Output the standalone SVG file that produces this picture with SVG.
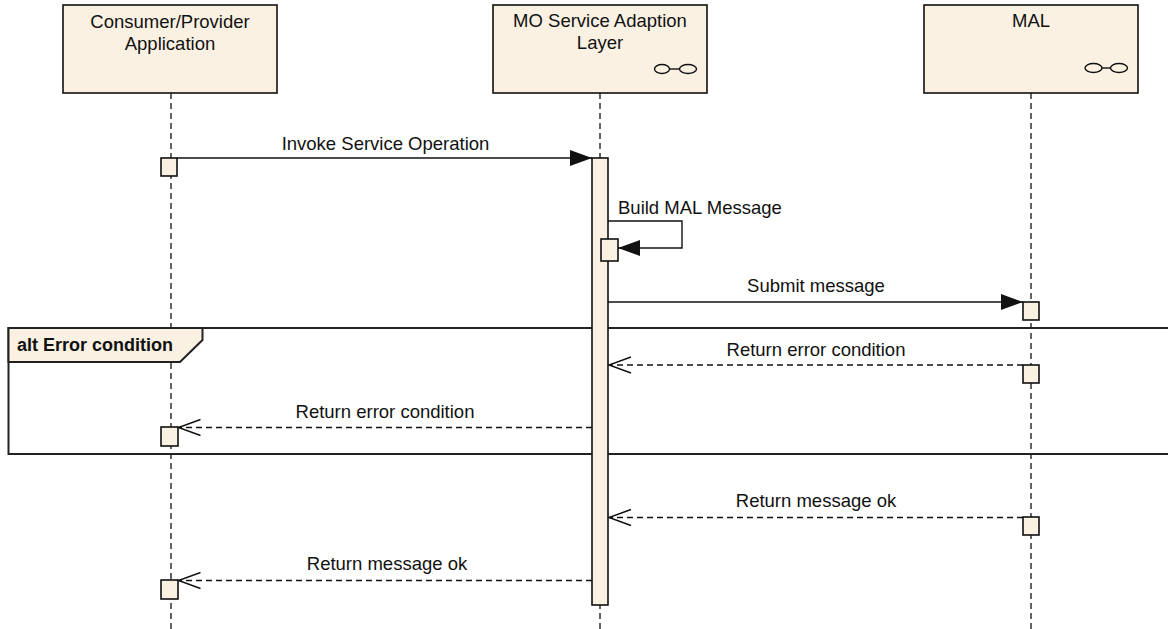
<svg xmlns="http://www.w3.org/2000/svg" width="1168" height="629" viewBox="0 0 1168 629">
<style>
.box{fill:#FBF1E3;stroke:#111;stroke-width:1.6}
.life{stroke:#111;stroke-width:1.3;stroke-dasharray:6 4;fill:none}
.msg{stroke:#111;stroke-width:1.4;fill:none}
.ret{stroke:#111;stroke-width:1.4;fill:none;stroke-dasharray:6 4}
.t{font-family:"Liberation Sans",Arial,sans-serif;font-size:18.5px;fill:#111}
.icon{fill:none;stroke:#111;stroke-width:1.4}
.frame{fill:none;stroke:#222;stroke-width:2}
</style>
<defs>
<marker id="filled" markerWidth="24" markerHeight="18" refX="22" refY="8" orient="auto" markerUnits="userSpaceOnUse">
<path d="M0,0 L22,8 L0,16 Z" fill="#111"/>
</marker>
<marker id="open" markerWidth="26" markerHeight="20" refX="23" refY="9" orient="auto" markerUnits="userSpaceOnUse">
<path d="M1,1 L23,9 L1,17" fill="none" stroke="#111" stroke-width="1.4"/>
</marker>
</defs>
<rect width="1168" height="629" fill="#fff"/>

<g id="lifelines">
<line class="life" x1="171" y1="93" x2="171" y2="629"/>
<line class="life" x1="600" y1="93" x2="600" y2="629"/>
<line class="life" x1="1031" y1="93" x2="1031" y2="629"/>
</g>

<g id="node-consumer">
<rect class="box" x="63" y="5" width="214" height="88"/>
<text class="t" x="170" y="28" text-anchor="middle">Consumer/Provider</text>
<text class="t" x="170" y="50" text-anchor="middle">Application</text>
</g>
<g id="node-mo">
<rect class="box" x="493" y="5" width="214" height="88"/>
<text class="t" x="600" y="27" text-anchor="middle">MO Service Adaption</text>
<text class="t" x="600" y="49" text-anchor="middle">Layer</text>
<ellipse class="icon" cx="662" cy="69" rx="7.5" ry="4.5"/>
<ellipse class="icon" cx="688" cy="69" rx="8.5" ry="4.5"/>
<line class="icon" x1="669.5" y1="69" x2="679.5" y2="69"/>
</g>
<g id="node-mal">
<rect class="box" x="924" y="5" width="214" height="88"/>
<text class="t" x="1031" y="27" text-anchor="middle">MAL</text>
<ellipse class="icon" cx="1093.5" cy="68" rx="8.5" ry="4.5"/>
<ellipse class="icon" cx="1119" cy="68" rx="8.5" ry="4.5"/>
<line class="icon" x1="1102" y1="68" x2="1110.5" y2="68"/>
</g>

<g id="frame-alt">
<rect class="frame" x="8.5" y="328" width="1170" height="126"/>
<path d="M8.5,328 L202.5,328 L202.5,340 L180,362 L8.5,362 Z" fill="#FBF1E3" stroke="#222" stroke-width="2"/>
<text x="17" y="351" font-family="Liberation Sans,Arial,sans-serif" font-size="18" font-weight="bold" fill="#111">alt Error condition</text>
</g>

<g id="activations">
<rect class="box" x="592" y="158" width="16" height="447"/>
<rect class="box" x="161" y="158" width="16" height="18"/>
<rect class="box" x="601" y="239" width="17" height="22"/>
<rect class="box" x="1023" y="302" width="16" height="18"/>
<rect class="box" x="1023" y="365" width="16" height="18"/>
<rect class="box" x="161" y="427" width="17" height="19"/>
<rect class="box" x="1023" y="517" width="16" height="18"/>
<rect class="box" x="161" y="580" width="17" height="19"/>
</g>

<g id="connectors">
<line class="msg" x1="177" y1="158" x2="592" y2="158" marker-end="url(#filled)"/>
<text class="t" x="385.5" y="150" text-anchor="middle">Invoke Service Operation</text>

<polyline class="msg" points="608,221 682,221 682,248 618,248" marker-end="url(#filled)"/>
<text class="t" x="618" y="214">Build MAL Message</text>

<line class="msg" x1="608" y1="302" x2="1023" y2="302" marker-end="url(#filled)"/>
<text class="t" x="816" y="292" text-anchor="middle">Submit message</text>

<line class="ret" x1="1023" y1="365" x2="609" y2="365" marker-end="url(#open)"/>
<text class="t" x="816" y="356" text-anchor="middle">Return error condition</text>

<line class="ret" x1="592" y1="427.5" x2="178.5" y2="427.5" marker-end="url(#open)"/>
<text class="t" x="385" y="418" text-anchor="middle">Return error condition</text>

<line class="ret" x1="1023" y1="517.5" x2="609" y2="517.5" marker-end="url(#open)"/>
<text class="t" x="816" y="507" text-anchor="middle">Return message ok</text>

<line class="ret" x1="592" y1="580.5" x2="178.5" y2="580.5" marker-end="url(#open)"/>
<text class="t" x="387" y="570" text-anchor="middle">Return message ok</text>
</g>
</svg>
